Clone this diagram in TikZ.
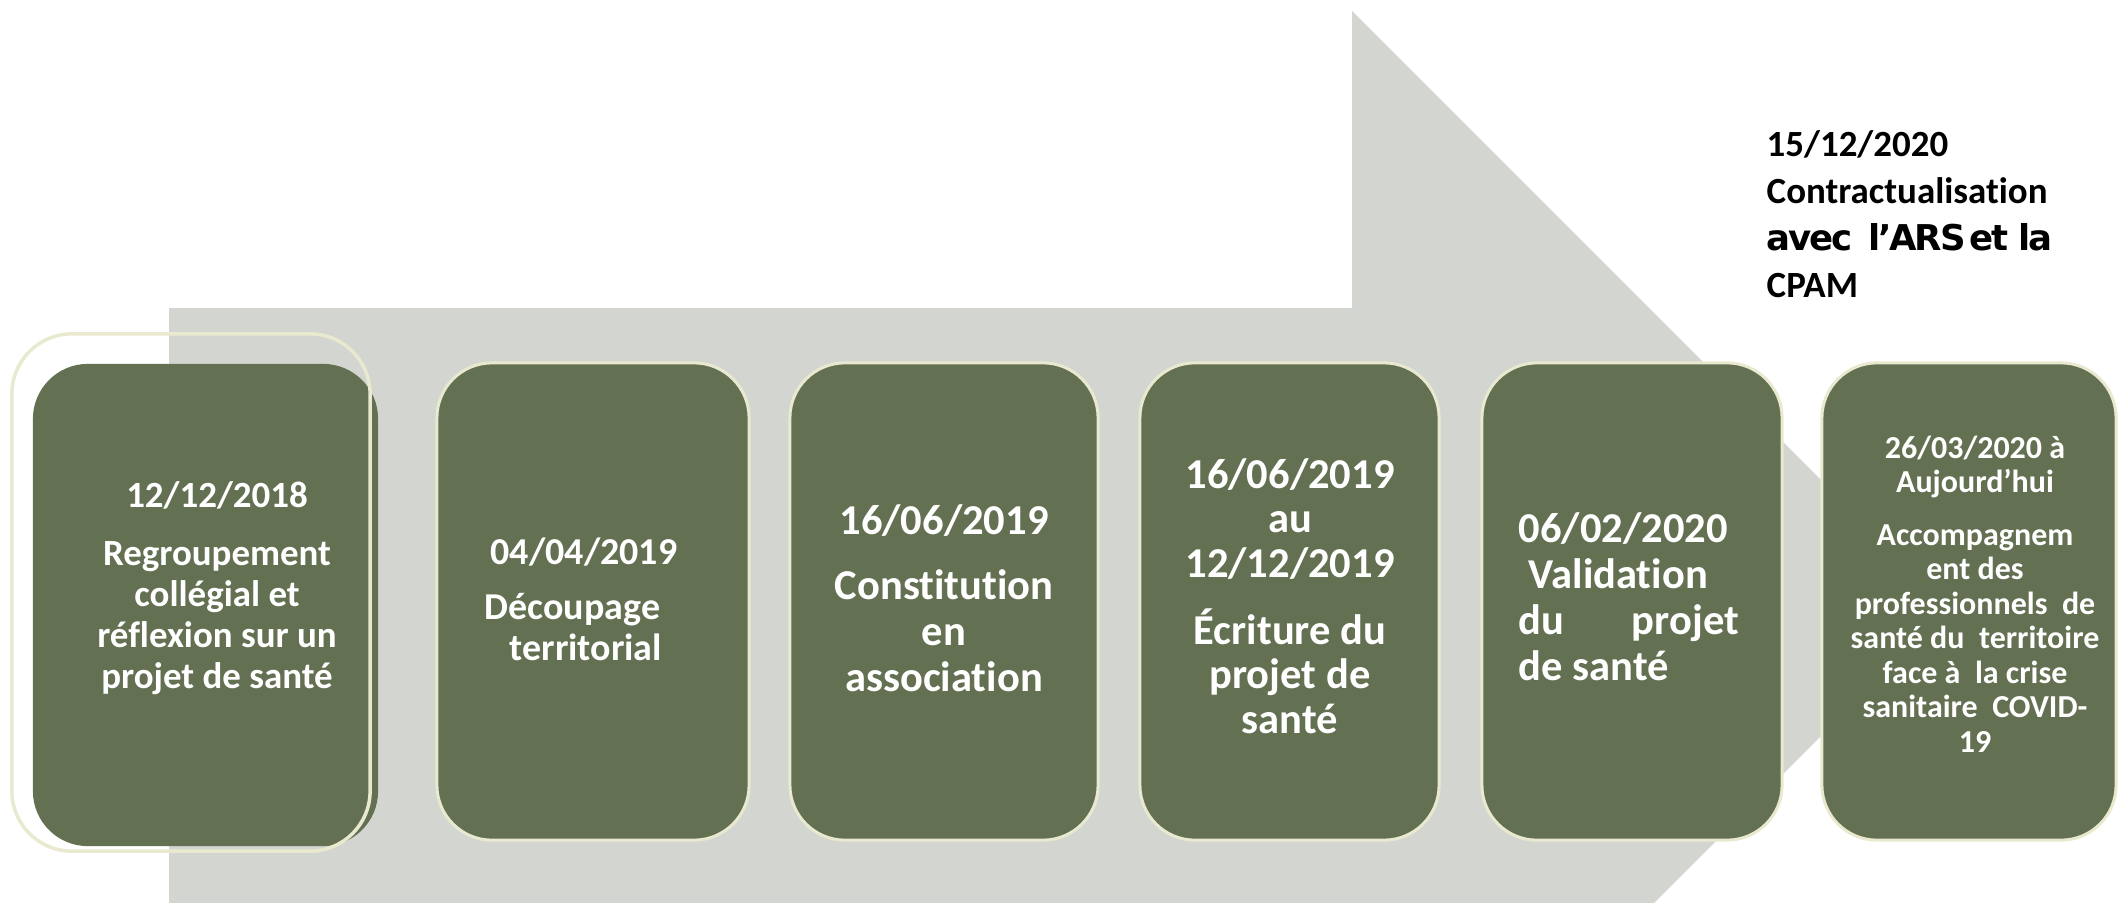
\documentclass[tikz,border=0pt]{standalone}
\usepackage{fontspec}
\setmainfont{Carlito}[Ligatures=NoCommon]
\newfontfamily\verd{DejaVu Sans}[LetterSpace=-6]
\definecolor{boxgreen}{RGB}{99,112,82}
\definecolor{arrowgray}{RGB}{211,214,208}
\definecolor{cream}{RGB}{233,233,208}
\tikzset{
  stepbox/.style={draw=cream, line width=0.03cm, fill=boxgreen, rounded corners=0.55cm, minimum height=4.77cm, inner sep=0},
  boxtext/.style={text=white, inner sep=0},
}
\begin{document}
\begin{tikzpicture}[x=0.01cm,y=-0.01cm]
\useasboundingbox (0,0) rectangle (2118,903);
% big grey arrow
\fill[arrowgray] (169,308) -- (1352,308) -- (1352,11) -- (1949,608) -- (1654,903) -- (169,903) -- cycle;
% boxes
\node[stepbox, draw=none, minimum width=3.45cm, minimum height=4.82cm] (b1) at (205.5,605) {};
\node[draw=cream, line width=0.035cm, rounded corners=0.6cm, minimum width=3.58cm, minimum height=5.17cm, inner sep=0] (o1) at (191,592.5) {};
\node[stepbox, minimum width=3.12cm] (b2) at (593,601.5) {};
\node[stepbox, minimum width=3.08cm] (b3) at (944,601.5) {};
\node[stepbox, minimum width=2.99cm] (b4) at (1289.5,601.5) {};
\node[stepbox, minimum width=3.00cm] (b5) at (1632,601.5) {};
\node[stepbox, minimum width=2.94cm] (b6) at (1969,601.5) {};
% texts
\node[boxtext, align=center, font=\fontsize{10.5pt}{11.7pt}\selectfont\bfseries] (t1) at (217,588)
  {12/12/2018\\[4.8pt]Regroupement\\collégial et\\réflexion sur un\\projet de santé};
\node[boxtext, align=left, anchor=west, font=\fontsize{10.8pt}{11.7pt}\selectfont\bfseries] (t2) at (484,599)
  {\hspace*{0.06cm}04/04/2019\\[4pt]Découpage\\\hspace*{0.25cm}territorial};
\node[boxtext, align=center, font=\fontsize{12.1pt}{13.1pt}\selectfont\bfseries] (t3) at (944,598)
  {16/06/2019\\[5.4pt]Constitution\\en\\association};
\node[boxtext, align=center, font=\fontsize{12.1pt}{12.66pt}\selectfont\bfseries] (t4) at (1290,596)
  {16/06/2019\\au\\12/12/2019\\[6.5pt]Écriture du\\projet de\\santé};
\node[boxtext, align=flush left, anchor=west, text width=2.2cm, font=\fontsize{12.1pt}{13.1pt}\selectfont\bfseries] (t5) at (1518,597)
  {06/02/2020\\\hspace*{0.1cm}Validation\\du\hfill projet\\de santé};
\node[boxtext, align=center, font=\fontsize{9.1pt}{9.8pt}\selectfont\bfseries] (t6) at (1975,594)
  {26/03/2020 à\\Aujourd{\char"27}hui\\[5.1pt]Accompagnem\\ent des\\professionnels\ \ de\\santé du\ \ territoire\\face à\ \ la crise\\sanitaire\ \ COVID-\\19};
\node[inner sep=0, align=left, anchor=west, font=\fontsize{10.5pt}{13.4pt}\selectfont\bfseries] (tr) at (1766,214)
  {15/12/2020\\Contractualisation\\{\verd\fontsize{10.1pt}{13.4pt}\selectfont\bfseries avec\hspace{0.15em} l’ARS\hspace{-0.18em} et la}\\CPAM};
\end{tikzpicture}
\end{document}
